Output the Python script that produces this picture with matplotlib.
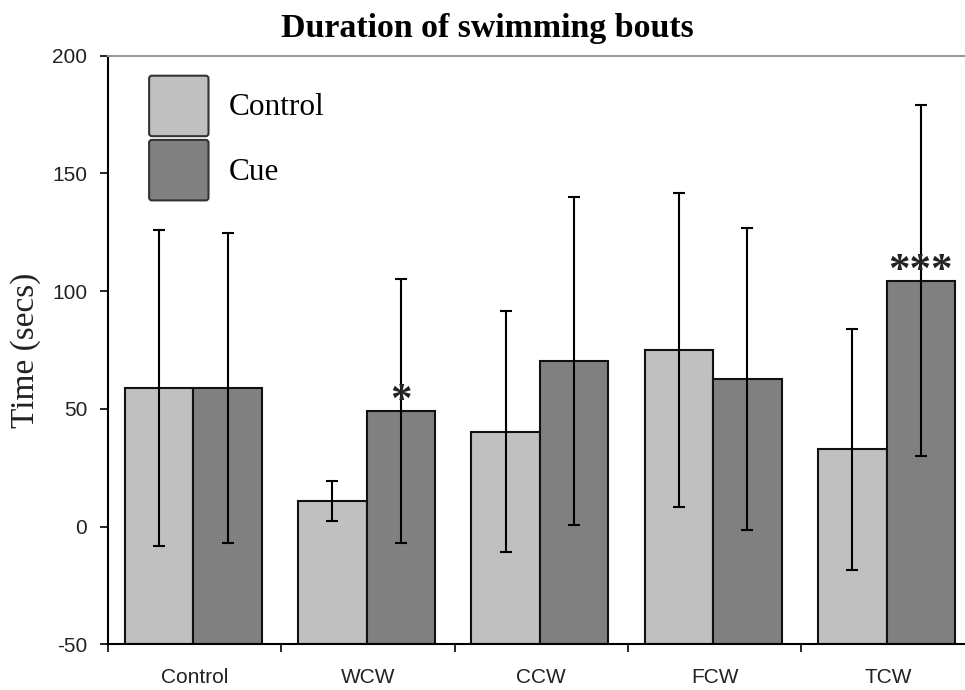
import matplotlib.pyplot as plt
from matplotlib.patches import FancyBboxPatch, Patch
from matplotlib.legend_handler import HandlerPatch

plt.rcParams['axes.unicode_minus'] = False

categories = ["Control", "WCW", "CCW", "FCW", "TCW"]
control_mean = [58.9, 10.7, 40.3, 75.0, 32.8]
control_err = [67.0, 8.5, 51.3, 66.7, 51.3]
cue_mean = [58.9, 49.2, 70.2, 62.7, 104.5]
cue_err = [65.8, 56.0, 69.7, 64.0, 74.5]
cue_stars = ["", "*", "", "", "***"]

light = "#c0c0c0"
dark = "#808080"
w = 0.395
base = -50  # bars rise from the bottom of the axis

fig = plt.figure(figsize=(9.65, 6.9), dpi=100)
ax = fig.add_axes([0.1119, 0.0662, 0.8881, 0.8531])

x = list(range(len(categories)))
xl = [i - 0.205 for i in x]
xd = [i + 0.19 for i in x]

ax.bar(xl, [m - base for m in control_mean], w, bottom=base, color=light,
       edgecolor="#111111", linewidth=1.5, zorder=2)
ax.bar(xd, [m - base for m in cue_mean], w, bottom=base, color=dark,
       edgecolor="#111111", linewidth=1.5, zorder=2)
ax.errorbar(xl, control_mean, yerr=control_err, fmt="none", ecolor="black",
            elinewidth=1.5, capsize=4.3, capthick=1.5, zorder=3)
ax.errorbar(xd, cue_mean, yerr=cue_err, fmt="none", ecolor="black",
            elinewidth=1.5, capsize=4.3, capthick=1.5, zorder=3)

for xi, m, s in zip(xd, cue_mean, cue_stars):
    if s:
        ax.text(xi, m - 4.5, s, ha="center", va="bottom", fontsize=31,
                family="Liberation Serif", fontweight="bold", color="#222222")

ax.set_xlim(-0.5, -0.5 + 857 / 173.3)
ax.set_ylim(-50, 200)
ax.set_yticks([-50, 0, 50, 100, 150, 200])

# separators at group boundaries, labels at group centres
ax.set_xticks([i + 0.5 for i in x[:-1]] + [-0.5])
ax.set_xticklabels([])
ax.set_xticks(x, minor=True)
ax.set_xticklabels(categories, minor=True)
ax.tick_params(axis="x", which="major", length=6, width=1.2, direction="out")
ax.tick_params(axis="x", which="minor", length=0, pad=17, labelsize=15,
               labelcolor="#222222")
ax.tick_params(axis="y", length=6, width=1.2, pad=9, labelsize=15,
               labelcolor="#222222")
for lab in ax.get_xticklabels(minor=True) + ax.get_yticklabels():
    lab.set_family("Liberation Sans")

ax.spines["right"].set_visible(False)
ax.spines["top"].set_color("#999999")
ax.spines["top"].set_linewidth(1.5)
ax.spines["left"].set_linewidth(1.5)
ax.spines["bottom"].set_linewidth(1.5)

ax.set_ylabel("Time (secs)", fontsize=24, family="Liberation Serif", labelpad=8,
              color="#222222")
fig.text(0.505, 0.958, "Duration of swimming bouts", ha="center", va="center",
         fontsize=24.4, fontweight="bold", family="Liberation Serif")


def rounded(legend, orig_handle, xdescent, ydescent, width, height, fontsize):
    return FancyBboxPatch((-xdescent, -ydescent), width, height,
                          boxstyle="round,pad=0,rounding_size=2")


handles = [Patch(facecolor=light, edgecolor="#333333", linewidth=1.5),
           Patch(facecolor=dark, edgecolor="#333333", linewidth=1.5)]
leg = ax.legend(handles, ["Control", "Cue"], loc="upper left",
                bbox_to_anchor=(0.048, 0.966), frameon=False, borderpad=0,
                borderaxespad=0, handlelength=1.9, handleheight=2.6,
                labelspacing=0.12, handletextpad=0.65,
                prop={"family": "Liberation Serif", "size": 22.5},
                handler_map={Patch: HandlerPatch(patch_func=rounded)})

fig.savefig("out.png", dpi=100)
